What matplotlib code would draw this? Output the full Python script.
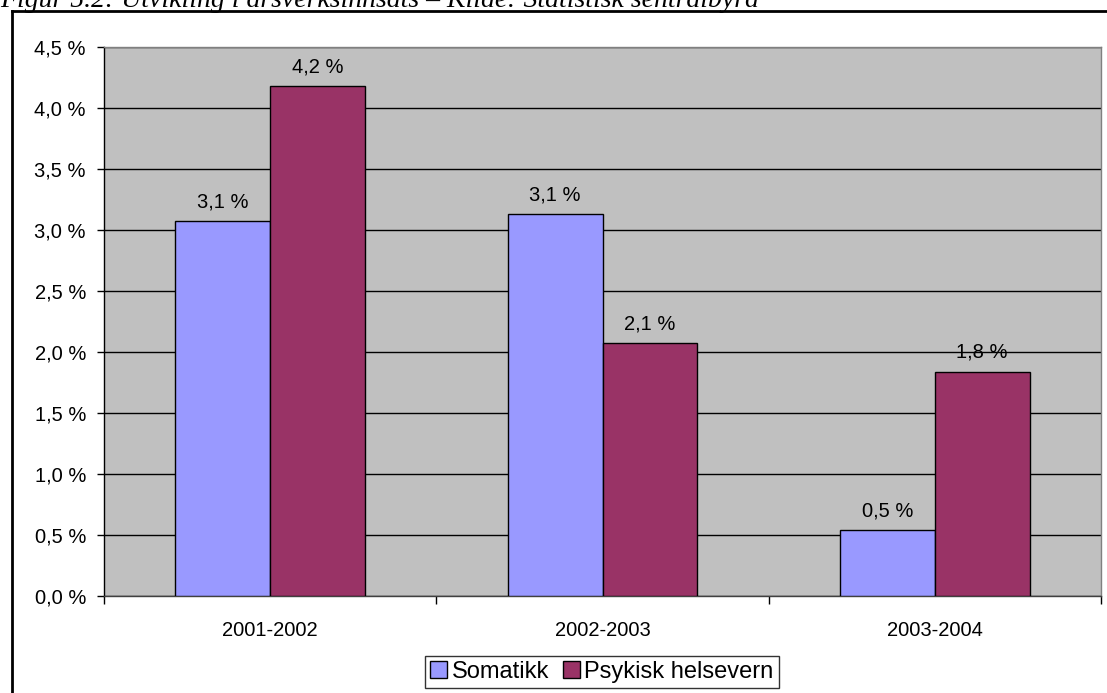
import matplotlib.pyplot as plt
import numpy as np
from matplotlib.lines import Line2D

# annual growth in man-years, per sector
periods = ['2001-2002', '2002-2003', '2003-2004']
somatikk = [3.07, 3.13, 0.54]
psykisk = [4.18, 2.07, 1.84]
yticks = [0.0, 0.5, 1.0, 1.5, 2.0, 2.5, 3.0, 3.5, 4.0, 4.5]

def pct(v):
    return ('%.1f %%' % v).replace('.', ',')

plt.rcParams['font.family'] = ['Liberation Sans', 'DejaVu Sans']

W, H = 1107, 693
fig = plt.figure(figsize=(W / 100, H / 100), dpi=100)

# caption above the frame (partly cut off at the top edge)
fig.text(0, 1 - 7 / H, 'Figur 5.2: Utvikling i årsverksinnsats \u2013 Kilde: Statistisk sentralbyrå',
         family=['Liberation Serif', 'DejaVu Serif'], style='italic', fontsize=20,
         va='baseline', ha='left')

# frame around the chart
fig.add_artist(Line2D([12 / W, 12 / W], [0, 1 - 11 / H], color='black', lw=2, transform=fig.transFigure))
fig.add_artist(Line2D([12 / W, 1], [1 - 11 / H, 1 - 11 / H], color='black', lw=2, transform=fig.transFigure))

ax = fig.add_axes([104 / W, (H - 596) / H, 997 / W, 549 / H])
ax.set_facecolor('#C0C0C0')

x = np.arange(len(periods))
w = 0.285
b1 = ax.bar(x - w / 2, somatikk, w, color='#9999FF', edgecolor='black', lw=1, label='Somatikk', zorder=3)
b2 = ax.bar(x + w / 2, psykisk, w, color='#993366', edgecolor='black', lw=1, label='Psykisk helsevern', zorder=3)

for bars, vals in ((b1, somatikk), (b2, psykisk)):
    for r, v in zip(bars, vals):
        ax.annotate(pct(v), (r.get_x() + r.get_width() / 2, v), xytext=(0, 7),
                    textcoords='offset points', ha='center', va='bottom', fontsize=14.5)

ax.set_ylim(0, 4.5)
ax.set_xlim(-0.5, 2.5)
ax.set_yticks(yticks)
ax.set_yticklabels([pct(t) for t in yticks], fontsize=14.5)
ax.yaxis.grid(True, color='black', lw=1)
ax.set_axisbelow(True)

ax.set_xticks(x)
ax.set_xticklabels(periods, fontsize=14.5)
ax.tick_params(axis='x', which='major', length=0, pad=18)
ax.set_xticks([-0.5, 0.5, 1.5, 2.5], minor=True)
ax.tick_params(axis='x', which='minor', length=6, width=1, direction='out', colors='black')
ax.tick_params(axis='y', length=5, width=1, direction='out', pad=8)

ax.spines['top'].set_color('#808080')
ax.spines['right'].set_color('#808080')
ax.spines['bottom'].set_color('#404040')
ax.spines['left'].set_color('black')
for s in ax.spines.values():
    s.set_linewidth(1)

leg = fig.legend(handles=[b1, b2], loc='center', bbox_to_anchor=(602 / W, 1 - 672 / H),
                 ncol=2, fontsize=17, frameon=True, fancybox=False, edgecolor='black',
                 handlelength=0.7, handleheight=0.7, handletextpad=0.2, columnspacing=0.6,
                 borderpad=0.22, borderaxespad=0)
leg.get_frame().set_linewidth(1)

fig.savefig('out.png', dpi=100)
